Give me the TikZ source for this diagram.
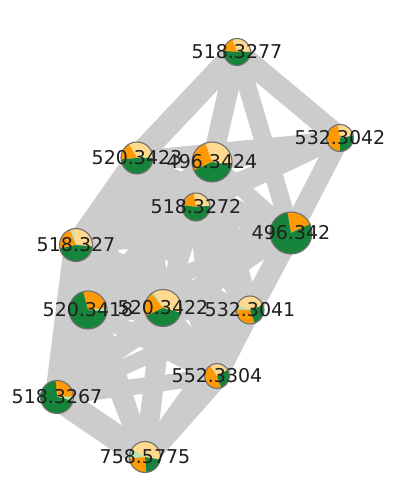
\documentclass[tikz,border=0pt]{standalone}
\usepackage{fontspec}
\setmainfont{DejaVu Sans}
\definecolor{pyel}{HTML}{FFD98E}
\definecolor{porg}{HTML}{FF9A05}
\definecolor{pgrn}{HTML}{16843A}
\definecolor{pmnt}{HTML}{B8E4B4}
\definecolor{pbrd}{HTML}{707070}
\definecolor{egray}{HTML}{CCCCCC}
\newcommand{\pslice}[5]{\fill[#5] (#1) -- ++(#3:#2) arc[start angle=#3, end angle=#4, radius=#2] -- cycle;}
\begin{document}
\begin{tikzpicture}[x=1pt,y=1pt,
  edge/.style={draw=egray, line cap=butt},
  pieborder/.style={circle, draw=pbrd, line width=1.1pt, inner sep=0pt},
  lbl/.style={font=\fontsize{19}{19}\selectfont, inner sep=0pt, text=black!88}]
\useasboundingbox[fill=white] (0,0) rectangle (400,485);
\coordinate (A) at (237,433);
\coordinate (B) at (340,347);
\coordinate (C) at (137,327);
\coordinate (D) at (212,323);
\coordinate (E) at (196,278);
\coordinate (F) at (291,252);
\coordinate (G) at (76,240);
\coordinate (H) at (88,175);
\coordinate (I) at (163,177);
\coordinate (J) at (250,175);
\coordinate (K) at (217,109);
\coordinate (L) at (57,88);
\coordinate (M) at (145,28);
% edges
\foreach \u/\v/\w in {A/C/24, A/D/20, A/F/18, A/B/22,
  B/F/20, B/D/20, B/C/14, B/E/16, B/G/14,
  C/D/16, C/E/18, C/F/14, C/G/22, C/H/22, C/I/20, C/J/16, C/K/14, C/L/18,
  D/E/18, D/F/16, D/G/16, D/H/16, D/I/18, D/J/18, D/K/14,
  E/F/18, E/G/18, E/H/18, E/I/18, E/J/18, E/K/16, E/L/14,
  F/G/14, F/H/16, F/I/18, F/J/22, F/K/20, F/L/12,
  G/H/24, G/I/20, G/J/16, G/K/16, G/L/24, G/M/16,
  H/I/22, H/J/18, H/K/18, H/L/22, H/M/20,
  I/J/22, I/K/20, I/L/18, I/M/20,
  J/K/20, J/L/16, J/M/18,
  K/L/16, K/M/24, L/M/26}
  \draw[edge, line width=\w pt] (\u) -- (\v);
% pies
\pslice{A}{13.5}{0}{110}{pyel}\pslice{A}{13.5}{110}{175}{porg}\pslice{A}{13.5}{175}{360}{pgrn}
\node[pieborder, minimum size=27pt] (An) at (A) {};
\pslice{B}{13.5}{10}{100}{pyel}\pslice{B}{13.5}{100}{270}{porg}\pslice{B}{13.5}{270}{370}{pgrn}
\node[pieborder, minimum size=27pt] (Bn) at (B) {};
\pslice{C}{16}{0}{120}{pyel}\pslice{C}{16}{120}{185}{porg}\pslice{C}{16}{185}{360}{pgrn}
\node[pieborder, minimum size=32pt] (Cn) at (C) {};
\pslice{D}{20}{-10}{110}{pyel}\pslice{D}{20}{110}{205}{porg}\pslice{D}{20}{205}{350}{pgrn}
\node[pieborder, minimum size=40pt] (Dn) at (D) {};
\pslice{E}{14}{5}{100}{pyel}\pslice{E}{14}{100}{172}{porg}\pslice{E}{14}{172}{365}{pgrn}
\node[pieborder, minimum size=28pt] (En) at (E) {};
\pslice{F}{21}{25}{100}{porg}\pslice{F}{21}{100}{385}{pgrn}
\node[pieborder, minimum size=42pt] (Fn) at (F) {};
\pslice{G}{16.5}{-5}{100}{pyel}\pslice{G}{16.5}{100}{112}{pmnt}\pslice{G}{16.5}{112}{192}{porg}\pslice{G}{16.5}{192}{355}{pgrn}
\node[pieborder, minimum size=33pt] (Gn) at (G) {};
\pslice{H}{19}{-5}{8}{pmnt}\pslice{H}{19}{8}{105}{porg}\pslice{H}{19}{105}{355}{pgrn}
\node[pieborder, minimum size=38pt] (Hn) at (H) {};
\pslice{I}{18.5}{-15}{120}{pyel}\pslice{I}{18.5}{120}{128}{pmnt}\pslice{I}{18.5}{128}{205}{porg}\pslice{I}{18.5}{205}{345}{pgrn}
\node[pieborder, minimum size=37pt] (In) at (I) {};
\pslice{J}{14}{20}{160}{pyel}\pslice{J}{14}{160}{180}{pmnt}\pslice{J}{14}{180}{290}{porg}\pslice{J}{14}{290}{380}{pgrn}
\node[pieborder, minimum size=28pt] (Jn) at (J) {};
\pslice{K}{12.5}{30}{125}{pyel}\pslice{K}{12.5}{125}{290}{porg}\pslice{K}{12.5}{290}{390}{pgrn}
\node[pieborder, minimum size=25pt] (Kn) at (K) {};
\pslice{L}{16.5}{-14}{3}{pmnt}\pslice{L}{16.5}{3}{95}{porg}\pslice{L}{16.5}{95}{346}{pgrn}
\node[pieborder, minimum size=33pt] (Ln) at (L) {};
\pslice{M}{15.5}{-10}{150}{pyel}\pslice{M}{15.5}{150}{185}{pmnt}\pslice{M}{15.5}{185}{275}{porg}\pslice{M}{15.5}{275}{350}{pgrn}
\node[pieborder, minimum size=31pt] (Mn) at (M) {};
% labels
\node[lbl] (Al) at (A) {518.3277};
\node[lbl] (Bl) at (B) {532.3042};
\node[lbl] (Cl) at (C) {520.3423};
\node[lbl] (Dl) at (D) {496.3424};
\node[lbl] (El) at (E) {518.3272};
\node[lbl] (Fl) at (F) {496.342};
\node[lbl] (Gl) at (G) {518.327};
\node[lbl] (Hl) at (H) {520.3418};
\node[lbl] (Il) at (I) {520.3422};
\node[lbl] (Jl) at (J) {532.3041};
\node[lbl] (Kl) at (K) {552.3304};
\node[lbl] (Ll) at (L) {518.3267};
\node[lbl] (Ml) at (M) {758.5775};
\end{tikzpicture}
\end{document}
